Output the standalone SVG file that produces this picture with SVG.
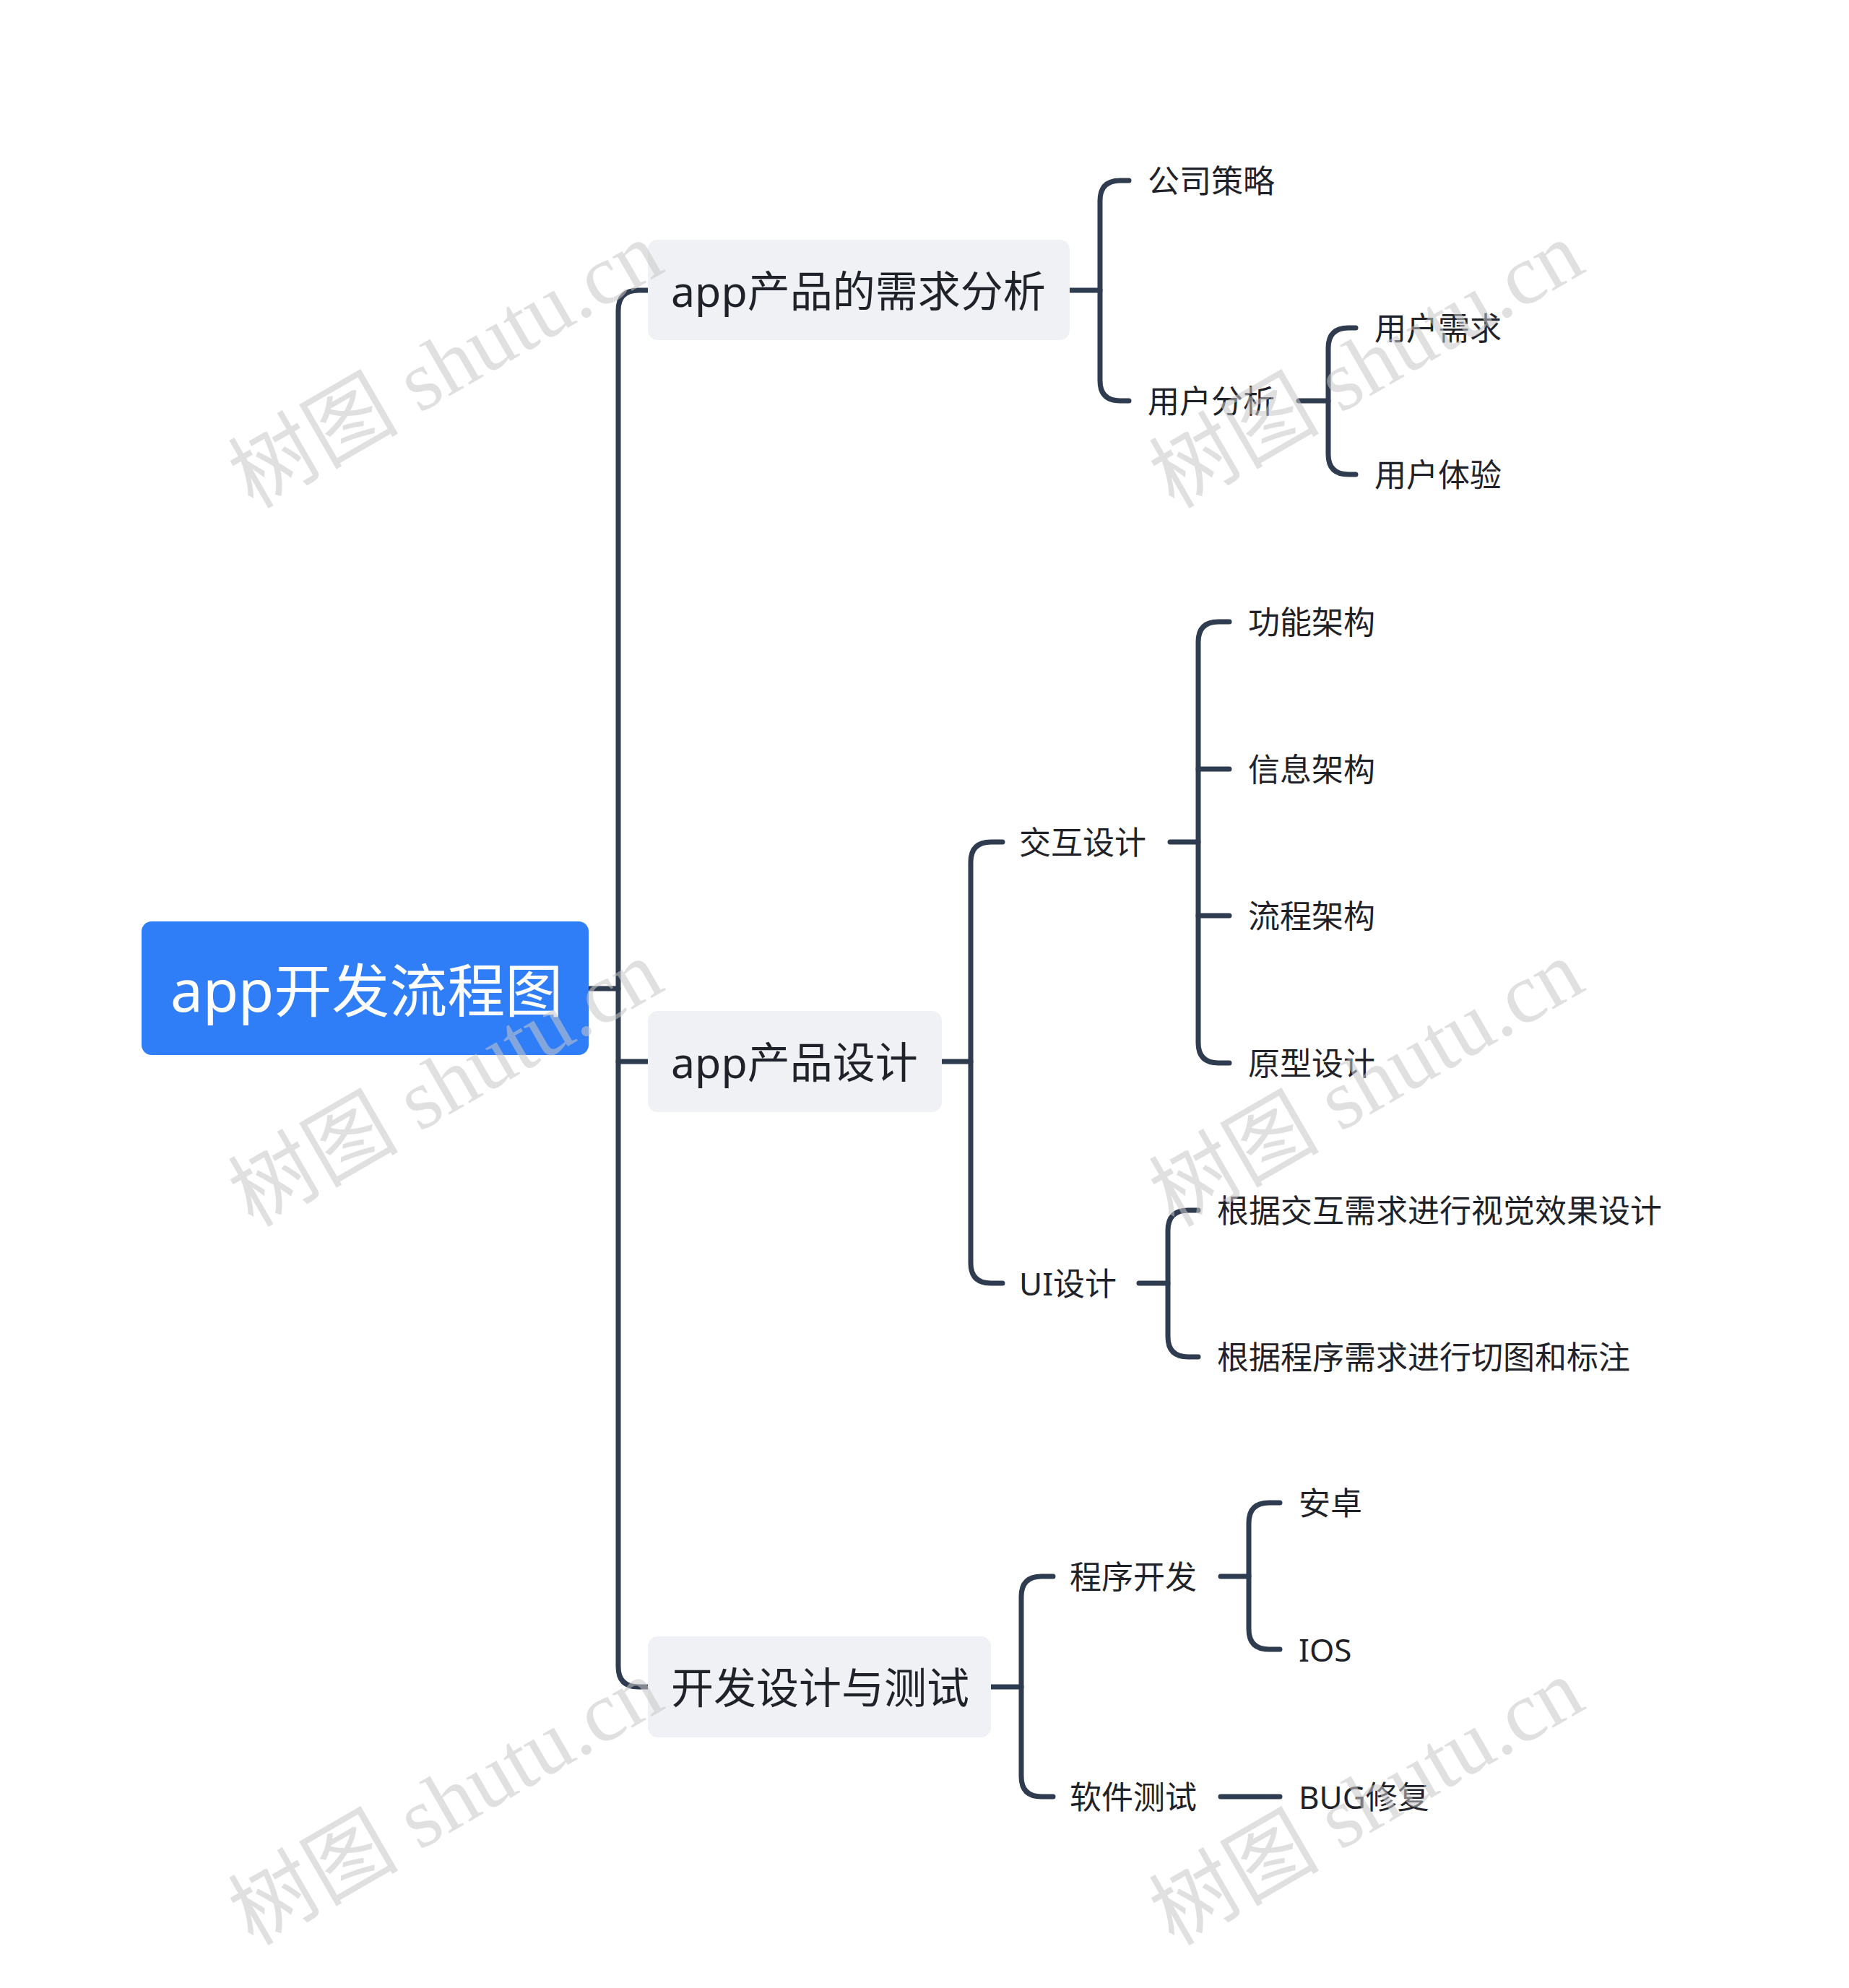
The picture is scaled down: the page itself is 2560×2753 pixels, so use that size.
<svg xmlns="http://www.w3.org/2000/svg" width="2560" height="2753" viewBox="0 0 2560 2753">
<style>
.c{fill:none;stroke:#2f3b4f;stroke-width:7;stroke-linecap:round}
.t{font-family:"Noto Sans","Noto Sans CJK SC",sans-serif;fill:#1f2329;dominant-baseline:central}
.l1{font-size:59px}
.l2{font-size:44px}
.b{fill:#eff1f4}
.w{font-family:"Liberation Serif","Noto Sans CJK SC",serif;font-size:118px;fill:#c8c8c8;opacity:0.55}
</style>
<rect width="2560" height="2753" fill="#fff"/>
<g id="connectors">
<path class="c" d="M815 1369 H856"/>
<path class="c" d="M897 402 H884 Q856 402 856 430 V2308 Q856 2336 884 2336 H897"/>
<path class="c" d="M856 1470 H897"/>
<path class="c" d="M1481 402 H1523"/>
<path class="c" d="M1563 250 H1551 Q1523 250 1523 278 V527 Q1523 555 1551 555 H1563"/>
<path class="c" d="M1798 555 H1839"/>
<path class="c" d="M1877 454 H1867 Q1839 454 1839 482 V629 Q1839 657 1867 657 H1877"/>
<path class="c" d="M1304 1470 H1344"/>
<path class="c" d="M1388 1166 H1372 Q1344 1166 1344 1194 V1749 Q1344 1777 1372 1777 H1388"/>
<path class="c" d="M1620 1166 H1659"/>
<path class="c" d="M1702 861 H1687 Q1659 861 1659 889 V1444 Q1659 1472 1687 1472 H1702"/>
<path class="c" d="M1659 1065 H1702 M1659 1268 H1702"/>
<path class="c" d="M1577 1777 H1617"/>
<path class="c" d="M1659 1676 H1645 Q1617 1676 1617 1704 V1851 Q1617 1879 1645 1879 H1659"/>
<path class="c" d="M1372 2336 H1414"/>
<path class="c" d="M1458 2183 H1442 Q1414 2183 1414 2211 V2460 Q1414 2488 1442 2488 H1458"/>
<path class="c" d="M1690 2183 H1729"/>
<path class="c" d="M1772 2081 H1757 Q1729 2081 1729 2109 V2256 Q1729 2284 1757 2284 H1772"/>
<path class="c" d="M1690 2488 H1772"/>
</g>
<g id="root"><rect x="196" y="1276" width="619" height="185" rx="14" fill="#2f7ef7"/><text class="t" x="236" y="1369" font-size="80" style="fill:#fff">app开发流程图</text></g>
<g id="n1"><rect class="b" x="897" y="332" width="584" height="139" rx="14"/><text class="t l1" x="929" y="402">app产品的需求分析</text></g>
<g id="n2"><rect class="b" x="897" y="1400" width="407" height="140" rx="14"/><text class="t l1" x="929" y="1470">app产品设计</text></g>
<g id="n3"><rect class="b" x="897" y="2266" width="475" height="140" rx="14"/><text class="t l1" x="929" y="2336">开发设计与测试</text></g>
<g id="n1a"><text class="t l2" x="1589" y="250">公司策略</text></g>
<g id="n1b"><text class="t l2" x="1589" y="555">用户分析</text></g>
<g id="n1b1"><text class="t l2" x="1903" y="454">用户需求</text></g>
<g id="n1b2"><text class="t l2" x="1903" y="657">用户体验</text></g>
<g id="n2a"><text class="t l2" x="1411" y="1166">交互设计</text></g>
<g id="n2b"><text class="t l2" x="1411" y="1777">UI设计</text></g>
<g id="n2a1"><text class="t l2" x="1728" y="861">功能架构</text></g>
<g id="n2a2"><text class="t l2" x="1728" y="1065">信息架构</text></g>
<g id="n2a3"><text class="t l2" x="1728" y="1268">流程架构</text></g>
<g id="n2a4"><text class="t l2" x="1728" y="1472">原型设计</text></g>
<g id="n2b1"><text class="t l2" x="1685" y="1676">根据交互需求进行视觉效果设计</text></g>
<g id="n2b2"><text class="t l2" x="1685" y="1879">根据程序需求进行切图和标注</text></g>
<g id="n3a"><text class="t l2" x="1481" y="2183">程序开发</text></g>
<g id="n3b"><text class="t l2" x="1481" y="2488">软件测试</text></g>
<g id="n3a1"><text class="t l2" x="1798" y="2081">安卓</text></g>
<g id="n3a2"><text class="t l2" x="1798" y="2284">IOS</text></g>
<g id="n3b1"><text class="t l2" x="1798" y="2488">BUG修复</text></g>
<g id="watermarks">
<text class="w" transform="translate(637 540) rotate(-30)" text-anchor="middle">树图 shutu.cn</text>
<text class="w" transform="translate(1912 540) rotate(-30)" text-anchor="middle">树图 shutu.cn</text>
<text class="w" transform="translate(637 1535) rotate(-30)" text-anchor="middle">树图 shutu.cn</text>
<text class="w" transform="translate(1912 1535) rotate(-30)" text-anchor="middle">树图 shutu.cn</text>
<text class="w" transform="translate(637 2530) rotate(-30)" text-anchor="middle">树图 shutu.cn</text>
<text class="w" transform="translate(1912 2530) rotate(-30)" text-anchor="middle">树图 shutu.cn</text>
</g>
</svg>
